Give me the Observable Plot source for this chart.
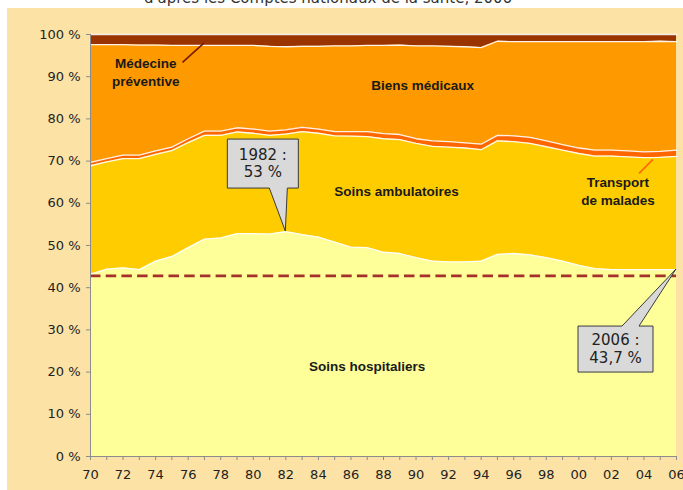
<!DOCTYPE html>
<html>
<head>
<meta charset="utf-8">
<script src="https://cdn.jsdelivr.net/npm/d3@7"></script>
<script src="https://cdn.jsdelivr.net/npm/@observablehq/plot@0.6"></script>
<style>
  html, body { margin: 0; padding: 0; background: #ffffff; }
  body { width: 683px; height: 490px; overflow: hidden; font-family: "DejaVu Sans", sans-serif; }
  #title { height: 8px; overflow: hidden; position: relative; }
  #title span { position: absolute; top: -9px; left: 0; width: 656px; text-align: center; font-size: 15px; line-height: 15px; color: #333; white-space: nowrap; }
  #chart { margin-left: 7px; width: 676px; height: 482px; background: #FDE2A6; }
  #chart svg { overflow: visible; }
</style>
</head>
<body>
<div id="title"><span>d'après les Comptes nationaux de la santé, 2006</span></div>
<div id="chart"></div>
<script>
// ---- Data (shares in %) ----
const years = [1970,1971,1972,1973,1974,1975,1976,1977,1978,1979,1980,1981,1982,1983,1984,1985,1986,1987,1988,1989,1990,1991,1992,1993,1994,1995,1996,1997,1998,1999,2000,2001,2002,2003,2004,2005,2006];

const seriesNames = ["Soins hospitaliers", "Soins ambulatoires", "Transport de malades", "Biens médicaux", "Médecine préventive"];

const hospitaliers = [43.2,44.4,44.7,44.3,46.3,47.4,49.5,51.5,51.8,52.8,52.8,52.7,53.3,52.6,52.0,50.8,49.6,49.5,48.4,48.1,47.1,46.3,46.1,46.1,46.3,47.9,48.1,47.8,47.1,46.3,45.3,44.5,44.3,44.3,44.3,44.3,44.3];
const ambulatoires = [25.7,25.4,25.9,26.3,25.3,25.1,24.9,24.6,24.3,24.1,23.8,23.4,23.1,24.4,24.6,25.2,26.3,26.3,26.9,27.0,27.1,27.2,27.2,27.0,26.4,26.9,26.5,26.4,26.3,26.3,26.5,26.7,26.9,26.7,26.5,26.6,26.8];
const transport = [0.8,0.8,0.8,0.8,0.8,0.8,0.9,1.0,1.0,1.0,1.0,1.0,1.0,1.0,1.0,1.0,1.1,1.2,1.2,1.2,1.1,1.3,1.3,1.2,1.3,1.3,1.4,1.4,1.4,1.3,1.3,1.4,1.4,1.4,1.4,1.4,1.5];
const biensMedicaux = [27.9,27.0,26.2,26.1,25.1,24.1,22.1,20.3,20.3,19.5,19.8,20.1,19.7,19.2,19.6,20.3,20.3,20.4,20.9,21.2,22.0,22.5,22.6,22.8,22.9,22.3,22.3,22.7,23.5,24.4,25.2,25.7,25.7,25.9,26.1,26.1,25.7];
const preventive = [2.4,2.4,2.4,2.5,2.5,2.6,2.6,2.6,2.6,2.6,2.6,2.8,2.9,2.8,2.8,2.7,2.7,2.6,2.6,2.5,2.7,2.7,2.8,2.9,3.1,1.6,1.7,1.7,1.7,1.7,1.7,1.7,1.7,1.7,1.7,1.6,1.7];

const yTicks = [0,10,20,30,40,50,60,70,80,90,100];
const xLabelYears = [1970,1972,1974,1976,1978,1980,1982,1984,1986,1988,1990,1992,1994,1996,1998,2000,2002,2004,2006];

const referenceLevel = 42.8; // dashed line

const areaLabels = [
  {year: 1987.0, value: 21.6, text: "Soins hospitaliers"},
  {year: 1988.8, value: 63.1, text: "Soins ambulatoires"},
  {year: 1990.4, value: 88.2, text: "Biens médicaux"},
  {year: 1973.4, value: 91.3, text: "Médecine\npréventive"},
  {year: 2002.4, value: 63.0, text: "Transport\nde malades"}
];

const leaders = [
  {x1: 1975.65, y1: 93.4, x2: 1976.95, y2: 97.9, series: "Médecine préventive"},
  {x1: 2003.7, y1: 67.1, x2: 2004.55, y2: 70.4, series: "Transport de malades"}
];

const callouts = [
  {year: 1982, value: 53.3, text: "1982 :\n53 %"},
  {year: 2006, value: 44.3, text: "2006 :\n43,7 %"}
];

// ---- Styling (kept apart from data) ----
const seriesColors = ["#FFFF99", "#FFCC00", "#FF6600", "#FF9900", "#993300"];
const leaderColors = {"Médecine préventive": "#7A1A00", "Transport de malades": "#FF6600"};
const calloutLayout = {
  1982: {box: [-58, 13, -92, -43], base: [-16, 2], side: "bottom", lh: 17},
  2006: {box: [-98, -23, 57, 103], base: [-54, -37], side: "top", lh: 18}
};

// ---- Build long table ----
const seriesValues = [hospitaliers, ambulatoires, transport, biensMedicaux, preventive];
const table = [];
years.forEach((yr, i) => {
  seriesNames.forEach((s, k) => table.push({year: yr, series: s, value: seriesValues[k][i]}));
});

const twoDigits = d => String(d % 100).padStart(2, "0");

const calloutMark = Plot.dot(callouts, {
  x: "year", y: "value", r: 1,
  render(index, scales, values) {
    const g = d3.create("svg:g");
    for (const i of index) {
      const d = callouts[i];
      const px = values.x[i], py = values.y[i];
      const L = calloutLayout[d.year];
      const [l, r, t, b] = L.box;
      const [b1, b2] = L.base;
      const p = L.side === "bottom"
        ? `M${l},${t}H${r}V${b}H${b2}L0,0L${b1},${b}H${l}Z`
        : `M${l},${t}H${b1}L0,0L${b2},${t}H${r}V${b}H${l}Z`;
      const gg = g.append("g").attr("transform", `translate(${px},${py})`);
      gg.append("path").attr("d", p).attr("fill", "#D9D9D9").attr("stroke", "#3a3a3a").attr("stroke-width", 1);
      const lines = d.text.split("\n");
      const cy = (t + b) / 2;
      lines.forEach((s, k) => {
        gg.append("text")
          .attr("x", (l + r) / 2)
          .attr("y", cy + (k - (lines.length - 1) / 2) * L.lh)
          .attr("dy", "0.36em")
          .attr("text-anchor", "middle")
          .attr("font-family", "DejaVu Sans")
          .attr("font-size", 15)
          .attr("fill", "#222")
          .text(s);
      });
    }
    return g.node();
  }
});

const chart = Plot.plot({
  width: 676,
  height: 482,
  marginLeft: 83,
  marginRight: 7,
  marginTop: 26,
  marginBottom: 34,
  style: {background: "transparent", fontFamily: "DejaVu Sans", fontSize: "13px", color: "#222", overflow: "visible"},
  x: {domain: [1970, 2006]},
  y: {domain: [0, 100]},
  color: {domain: seriesNames, range: seriesColors},
  marks: [
    Plot.areaY(table, {x: "year", y: "value", z: "series", fill: "series"}),
    Plot.lineY(table, Plot.stackY2({x: "year", y: "value", z: "series", stroke: "white", strokeWidth: 1.3, strokeOpacity: 0.9})),
    Plot.ruleY([referenceLevel], {stroke: "#A3302A", strokeWidth: 2.6, strokeDasharray: "10.5,5.2"}),
    Plot.ruleX([1970], {stroke: "#8c8c8c", strokeWidth: 1}),
    Plot.ruleY([0], {stroke: "#8c8c8c", strokeWidth: 1}),
    Plot.axisY({ticks: yTicks, tickFormat: d => d + " %", tickSize: 4, tickPadding: 6, stroke: "#8c8c8c", fill: "#222", fontSize: 13}),
    Plot.axisX({ticks: years, tickSize: 4, tickFormat: () => "", stroke: "#8c8c8c"}),
    Plot.axisX({ticks: xLabelYears, tickSize: 0, tickPadding: 13, tickFormat: twoDigits, fill: "#222", fontSize: 13}),
    Plot.link(leaders, {x1: "x1", y1: "y1", x2: "x2", y2: "y2", stroke: d => leaderColors[d.series], strokeWidth: 1.6}),
    Plot.text(areaLabels, {x: "year", y: "value", text: "text", fontFamily: "Liberation Sans", fontWeight: "bold", fontSize: 13.5, fill: "#1a1a1a", lineHeight: 1.3, lineAnchor: "middle"}),
    calloutMark
  ]
});

document.getElementById("chart").appendChild(chart);
</script>
</body>
</html>
